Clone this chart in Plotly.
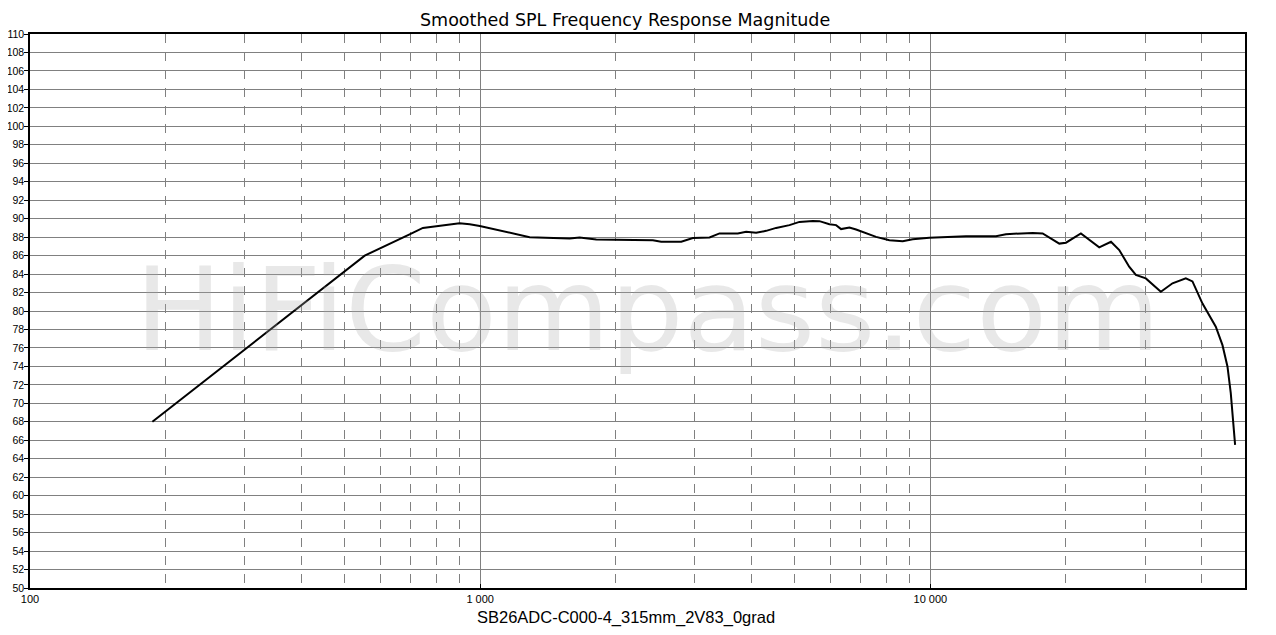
import plotly.graph_objects as go

freq_hz = [187, 554, 697, 746, 900, 948, 998, 1288, 1580, 1663, 1811, 2419, 2524, 2797,
           2968, 3232, 3401, 3735, 3898, 4102, 4318, 4544, 4864, 5120, 5481, 5671, 5968,
           6175, 6334, 6611, 6840, 7576, 8110, 8682, 9138, 9949, 12000, 13990, 14720,
           16875, 17760, 19340, 20010, 21600, 23720, 25190, 26280, 27650, 28610, 30110,
           32510, 34510, 36940, 38220, 40230, 43060, 44560, 45710, 46490, 47530]
spl_db = [68.0, 86.0, 88.3, 89.0, 89.5, 89.4, 89.2, 88.0, 87.86, 87.97, 87.75, 87.67, 87.5,
          87.5, 87.9, 87.97, 88.4, 88.4, 88.57, 88.47, 88.68, 89.0, 89.3, 89.65, 89.76,
          89.73, 89.4, 89.3, 88.87, 89.05, 88.83, 88.03, 87.67, 87.56, 87.78, 87.92, 88.1,
          88.1, 88.32, 88.46, 88.4, 87.3, 87.4, 88.4, 86.9, 87.5, 86.6, 84.8, 83.9, 83.53,
          82.08, 83.0, 83.53, 83.2, 80.8, 78.3, 76.3, 74.0, 71.1, 65.5]

x_major_vals = [100, 1000, 10000]
x_major_text = ["100", "1 000", "10 000"]
x_minor_vals = [200, 300, 400, 500, 600, 700, 800, 900,
                2000, 3000, 4000, 5000, 6000, 7000, 8000, 9000,
                20000, 30000, 40000, 50000]
y_ticks = list(range(50, 111, 2))

title_text = "Smoothed SPL Frequency Response Magnitude"
x_label = "SB26ADC-C000-4_315mm_2V83_0grad"
watermark = "HiFiCompass.com"

fig = go.Figure()
fig.add_trace(go.Scatter(x=freq_hz, y=spl_db, mode="lines",
                         line=dict(color="black", width=2), showlegend=False,
                         hoverinfo="x+y"))

# page has an 8px body margin; figure sized/margined so plot area lands at x 30-1245, y 34-588
fig.update_layout(
    width=1268, height=627,
    margin=dict(l=22, r=31, t=26, b=47, autoexpand=False),
    paper_bgcolor="white", plot_bgcolor="white",
    font=dict(family="Liberation Sans, Arial, sans-serif", color="black", size=11),
    xaxis=dict(type="log", range=[2, 4.69897], tickmode="array",
               tickvals=x_major_vals, ticktext=x_major_text, automargin=False,
               showgrid=True, gridcolor="#808080", gridwidth=1,
               ticks="inside", ticklen=4, tickcolor="black",
               showline=True, linecolor="black", linewidth=1.5, mirror=True,
               zeroline=False,
               tickfont=dict(size=11, color="black"),
               minor=dict(tickmode="array", tickvals=x_minor_vals, showgrid=True,
                          gridcolor="#808080", griddash="dash", gridwidth=1, ticks="")),
    yaxis=dict(range=[50, 110], tickmode="array", tickvals=y_ticks, automargin=False,
               showgrid=True, gridcolor="#808080", gridwidth=1,
               ticks="outside", ticklen=4, tickcolor="black", ticklabelstandoff=-2,
               showline=True, linecolor="black", linewidth=1.5, mirror=True,
               zeroline=False, tickfont=dict(size=10.5, color="black")),
    annotations=[
        dict(text=watermark, xref="paper", yref="paper", x=0.5086, y=0.502,
             xanchor="center", yanchor="middle", showarrow=False,
             font=dict(family="DejaVu Sans, Verdana, sans-serif", size=116,
                       color="rgba(170,170,170,0.27)")),
        dict(text=title_text, xref="paper", yref="paper", x=0.4897, y=(588 - 20) / 554,
             xanchor="center", yanchor="middle", showarrow=False,
             font=dict(family="DejaVu Sans, Verdana, sans-serif", size=17.5, color="black")),
        dict(text=x_label, xref="paper", yref="paper", x=0.4905, y=(588 - 617.5) / 554,
             xanchor="center", yanchor="middle", showarrow=False,
             font=dict(family="Liberation Sans, Arial, sans-serif", size=16.5, color="black")),
    ],
)

fig.write_html("out.html")
